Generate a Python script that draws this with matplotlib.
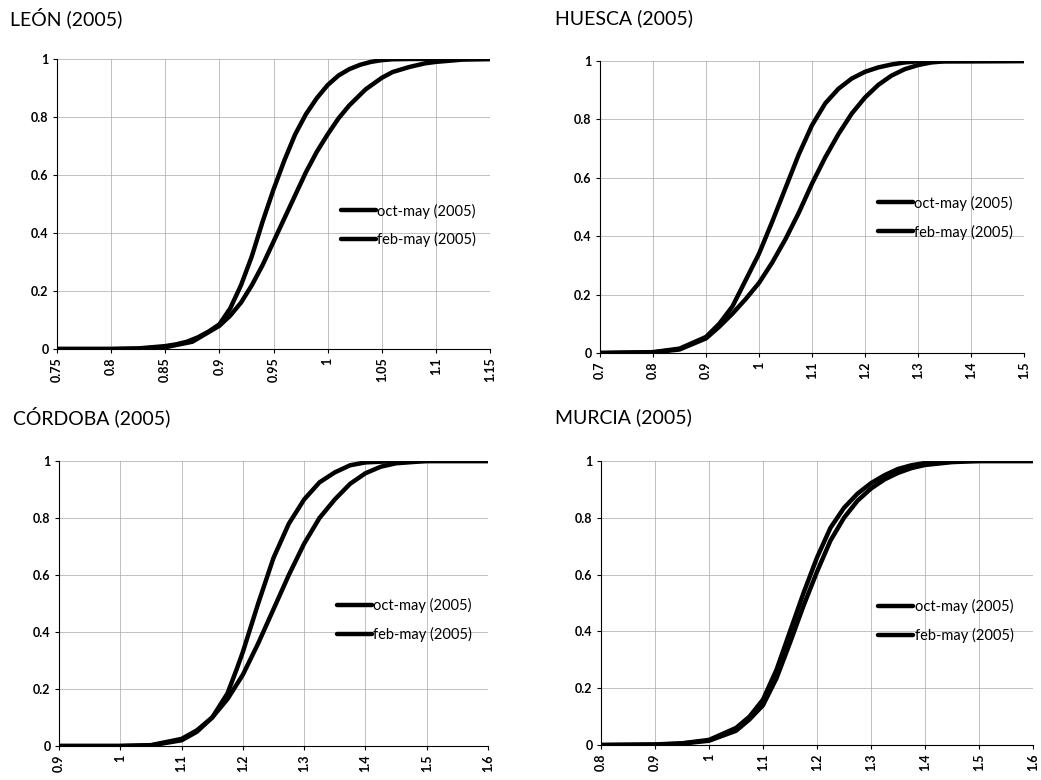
import numpy as np
import matplotlib
matplotlib.use("Agg")
import matplotlib.pyplot as plt

plt.rcParams['font.family'] = ['Lato', 'DejaVu Sans']

# ---- data ----
leon_x_oct = [0.75, 0.80, 0.825, 0.85, 0.86, 0.87, 0.88, 0.89, 0.90, 0.91, 0.92,
              0.93, 0.94, 0.95, 0.96, 0.97, 0.98, 0.99, 1.00, 1.01, 1.02, 1.03,
              1.04, 1.05, 1.06, 1.075, 1.15]
leon_y_oct = [0.0, 0.0, 0.002, 0.01, 0.016, 0.025, 0.04, 0.06, 0.085, 0.14, 0.22,
              0.32, 0.44, 0.55, 0.65, 0.74, 0.81, 0.865, 0.91, 0.943, 0.965, 0.98,
              0.99, 0.996, 0.999, 1.0, 1.0]
leon_x_feb = [0.75, 0.80, 0.825, 0.85, 0.875, 0.90, 0.91, 0.92, 0.93, 0.94, 0.95,
              0.96, 0.97, 0.98, 0.99, 1.00, 1.01, 1.02, 1.035, 1.05, 1.06, 1.075,
              1.09, 1.10, 1.125, 1.15]
leon_y_feb = [0.0, 0.0, 0.001, 0.006, 0.025, 0.08, 0.115, 0.16, 0.22, 0.29, 0.37,
              0.45, 0.53, 0.61, 0.68, 0.74, 0.795, 0.84, 0.895, 0.935, 0.955, 0.972,
              0.985, 0.99, 0.998, 1.0]

huesca_x_oct = [0.7, 0.8, 0.85, 0.9, 0.925, 0.95, 0.975, 1.0, 1.025, 1.05, 1.075,
                1.1, 1.125, 1.15, 1.175, 1.2, 1.225, 1.25, 1.275, 1.3, 1.5]
huesca_y_oct = [0.0, 0.003, 0.015, 0.055, 0.1, 0.16, 0.25, 0.34, 0.45, 0.565, 0.68,
                0.78, 0.855, 0.905, 0.94, 0.963, 0.978, 0.988, 0.995, 0.999, 1.0]
huesca_x_feb = [0.7, 0.8, 0.85, 0.9, 0.925, 0.95, 0.975, 1.0, 1.025, 1.05, 1.075,
                1.1, 1.125, 1.15, 1.175, 1.2, 1.225, 1.25, 1.275, 1.3, 1.325,
                1.35, 1.5]
huesca_y_feb = [0.0, 0.002, 0.012, 0.05, 0.09, 0.135, 0.185, 0.24, 0.31, 0.39, 0.48,
                0.58, 0.67, 0.75, 0.82, 0.875, 0.918, 0.95, 0.972, 0.986, 0.995,
                0.999, 1.0]

cordoba_x_oct = [0.9, 1.0, 1.05, 1.1, 1.125, 1.15, 1.175, 1.19, 1.2, 1.225, 1.25,
                 1.275, 1.3, 1.325, 1.35, 1.375, 1.4, 1.45, 1.6]
cordoba_y_oct = [0.0, 0.0, 0.003, 0.025, 0.055, 0.1, 0.185, 0.27, 0.33, 0.5, 0.66,
                 0.78, 0.865, 0.925, 0.96, 0.985, 0.995, 1.0, 1.0]
cordoba_x_feb = [0.9, 1.0, 1.05, 1.1, 1.125, 1.15, 1.175, 1.2, 1.225, 1.25, 1.275,
                 1.3, 1.325, 1.35, 1.375, 1.4, 1.425, 1.45, 1.5, 1.6]
cordoba_y_feb = [0.0, 0.0, 0.002, 0.02, 0.05, 0.1, 0.165, 0.25, 0.36, 0.48, 0.6,
                 0.71, 0.8, 0.865, 0.92, 0.957, 0.98, 0.992, 1.0, 1.0]

murcia_x_oct = [0.8, 0.9, 0.95, 1.0, 1.05, 1.075, 1.1, 1.125, 1.15, 1.175, 1.2,
                1.225, 1.25, 1.275, 1.3, 1.325, 1.35, 1.375, 1.4, 1.45, 1.6]
murcia_y_oct = [0.0, 0.002, 0.006, 0.018, 0.06, 0.1, 0.16, 0.265, 0.4, 0.535, 0.66,
                0.765, 0.835, 0.885, 0.922, 0.95, 0.972, 0.985, 0.993, 1.0, 1.0]
murcia_x_feb = [0.8, 0.9, 0.95, 1.0, 1.05, 1.075, 1.1, 1.125, 1.15, 1.175, 1.2,
                1.225, 1.25, 1.275, 1.3, 1.325, 1.35, 1.375, 1.4, 1.45, 1.5, 1.6]
murcia_y_feb = [0.0, 0.001, 0.005, 0.015, 0.05, 0.09, 0.14, 0.235, 0.36, 0.49, 0.61,
                0.72, 0.8, 0.86, 0.903, 0.935, 0.958, 0.975, 0.986, 0.996, 1.0, 1.0]

leon_ticks = ["0.75", "0.8", "0.85", "0.9", "0.95", "1", "1.05", "1.1", "1.15"]
huesca_ticks = ["0.7", "0.8", "0.9", "1", "1.1", "1.2", "1.3", "1.4", "1.5"]
cordoba_ticks = ["0.9", "1", "1.1", "1.2", "1.3", "1.4", "1.5", "1.6"]
murcia_ticks = ["0.8", "0.9", "1", "1.1", "1.2", "1.3", "1.4", "1.5", "1.6"]
y_ticks = ["0", "0.2", "0.4", "0.6", "0.8", "1"]

titles = ["LEÓN (2005)", "HUESCA (2005)", "CÓRDOBA (2005)", "MURCIA (2005)"]
labels = ["oct-may (2005)", "feb-may (2005)"]

W, H = 1041, 780
fig = plt.figure(figsize=(W / 100, H / 100), dpi=100)


def add_ax(l, r, t, b):
    return fig.add_axes([l / W, 1 - b / H, (r - l) / W, (b - t) / H])


# (left, right, top, bottom) in pixels, title pos, legend anchor
panels = [
    ((57, 490, 59, 349), (10, 18), (0.655, 0.426),
     leon_x_oct, leon_y_oct, leon_x_feb, leon_y_feb, leon_ticks),
    ((600, 1024, 61, 353), (555, 18), (0.655, 0.464),
     huesca_x_oct, huesca_y_oct, huesca_x_feb, huesca_y_feb, huesca_ticks),
    ((59, 488, 461, 746), (13, 417), (0.648, 0.442),
     cordoba_x_oct, cordoba_y_oct, cordoba_x_feb, cordoba_y_feb, cordoba_ticks),
    ((601, 1033, 461, 745), (555, 417), (0.642, 0.437),
     murcia_x_oct, murcia_y_oct, murcia_x_feb, murcia_y_feb, murcia_ticks),
]

for i, (box, tpos, leg, xo, yo, xf, yf, xt) in enumerate(panels):
    ax = add_ax(*box)
    ax.plot(xo, yo, color='black', lw=3.2, label=labels[0],
            solid_capstyle='round', solid_joinstyle='round')
    ax.plot(xf, yf, color='black', lw=3.2, label=labels[1],
            solid_capstyle='round', solid_joinstyle='round')
    xv = [float(s) for s in xt]
    ax.set_xlim(xv[0], xv[-1])
    ax.set_ylim(0, 1)
    ax.set_xticks(xv)
    ax.set_xticklabels(xt, rotation=90, fontsize=9, fontweight='bold')
    ax.set_yticks([float(s) for s in y_ticks])
    ax.set_yticklabels(y_ticks, fontsize=9, fontweight='bold')
    ax.tick_params(length=3, width=0.8, pad=3)
    ax.grid(True, color='#a8a8a8', lw=0.5)
    ax.set_axisbelow(True)
    for s in ['top', 'right']:
        ax.spines[s].set_visible(False)
    for s in ['left', 'bottom']:
        ax.spines[s].set_linewidth(0.8)
    ax.legend(loc='center left', bbox_to_anchor=leg, frameon=False, fontsize=10.5,
              handlelength=2.4, handletextpad=0.1, labelspacing=0.95, borderpad=0,
              borderaxespad=0)
    fig.text(tpos[0] / W, 1 - tpos[1] / H, titles[i], fontsize=14,
             ha='left', va='center')

fig.savefig("out.png", dpi=100)
